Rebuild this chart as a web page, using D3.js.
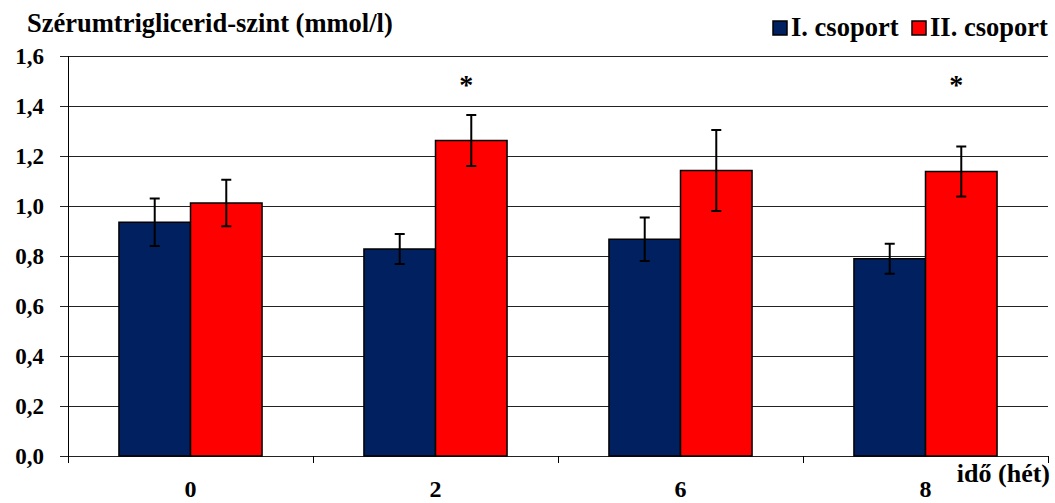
<!DOCTYPE html>
<html lang="hu">
<head>
    <meta charset="UTF-8">
    <title>Szérumtriglicerid-szint</title>
    <script src="https://d3js.org/d3.v7.min.js"></script>
    <style>
        body {
            margin: 0;
            padding: 0;
            background: white;
        }
        svg {
            display: block;
        }
        svg text {
            font-family: "Liberation Serif", "DejaVu Serif", "Times New Roman", serif;
            font-weight: bold;
        }
    </style>
</head>
<body>
    <svg id="chart" width="1055" height="503"></svg>

    <script>
        // data
        const weeks = ["0", "2", "6", "8"];
        const groups = ["I. csoport", "II. csoport"];
        const groupI = [0.935, 0.828, 0.867, 0.789];
        const groupII = [1.012, 1.262, 1.142, 1.138];
        const errI = [0.095, 0.06, 0.087, 0.06];
        const errII = [0.093, 0.102, 0.162, 0.1];
        const starred = ["2", "8"];
        const yTicks = [0, 0.2, 0.4, 0.6, 0.8, 1.0, 1.2, 1.4, 1.6];

        const colors = ["#002060", "#ff0000"];

        const svg = d3.select("#chart");
        const margin = { top: 56, right: 7, bottom: 47, left: 68 };
        const width = 1055, height = 503;

        const x = d3.scaleBand()
            .domain(weeks)
            .range([margin.left, width - margin.right])
            .paddingInner(0)
            .paddingOuter(0);

        const inner = d3.scaleBand()
            .domain(groups)
            .range([0, x.bandwidth()])
            .paddingInner(0)
            .paddingOuter(0.712);

        const y = d3.scaleLinear()
            .domain([0, 1.6])
            .range([height - margin.bottom, margin.top]);

        const fmt = d => d.toFixed(1).replace(".", ",");

        // gridlines
        svg.append("g")
            .selectAll("line")
            .data(yTicks)
            .join("line")
            .attr("x1", margin.left - 8)
            .attr("x2", width - margin.right)
            .attr("y1", d => Math.round(y(d)) + 0.5)
            .attr("y2", d => Math.round(y(d)) + 0.5)
            .attr("stroke", "#222")
            .attr("stroke-width", 1);

        // y labels
        svg.append("g")
            .selectAll("text")
            .data(yTicks)
            .join("text")
            .attr("x", 44)
            .attr("y", d => y(d) + 8)
            .attr("text-anchor", "end")
            .attr("font-size", 23)
            .text(fmt);

        // y axis line
        svg.append("line")
            .attr("x1", margin.left + 0.5).attr("x2", margin.left + 0.5)
            .attr("y1", y(1.6)).attr("y2", y(0))
            .attr("stroke", "#000");

        // x axis ticks between categories
        const boundaries = weeks.map(w => x(w) + x.bandwidth()).concat([margin.left]);
        svg.append("g")
            .selectAll("line")
            .data(boundaries)
            .join("line")
            .attr("x1", d => Math.round(d) + 0.5)
            .attr("x2", d => Math.round(d) + 0.5)
            .attr("y1", y(0))
            .attr("y2", y(0) + 7)
            .attr("stroke", "#000");

        // bars
        const rows = weeks.map((w, i) => [
            { week: w, group: groups[0], v: groupI[i], e: errI[i], c: colors[0] },
            { week: w, group: groups[1], v: groupII[i], e: errII[i], c: colors[1] }
        ]).flat();

        const bars = svg.append("g");
        bars.selectAll("rect")
            .data(rows)
            .join("rect")
            .attr("x", d => x(d.week) + inner(d.group))
            .attr("y", d => y(d.v))
            .attr("width", inner.bandwidth())
            .attr("height", d => y(0) - y(d.v))
            .attr("fill", d => d.c)
            .attr("stroke", "#000")
            .attr("stroke-width", 1.5);

        // error bars
        const eb = svg.append("g").attr("stroke", "#000").attr("stroke-width", 2);
        rows.forEach(d => {
            const cx = x(d.week) + inner(d.group) + inner.bandwidth() / 2;
            eb.append("line")
                .attr("x1", cx).attr("x2", cx)
                .attr("y1", y(d.v + d.e)).attr("y2", y(d.v - d.e));
            [d.v + d.e, d.v - d.e].forEach(t => {
                eb.append("line")
                    .attr("x1", cx - 5).attr("x2", cx + 5)
                    .attr("y1", y(t)).attr("y2", y(t));
            });
        });

        // significance marks
        svg.append("g")
            .selectAll("text")
            .data(starred)
            .join("text")
            .attr("x", d => x(d) + inner(groups[1]) + inner.bandwidth() / 2 - 5)
            .attr("y", y(1.6) + 38)
            .attr("text-anchor", "middle")
            .attr("font-size", 28)
            .text("*");

        // x labels
        svg.append("g")
            .selectAll("text")
            .data(weeks)
            .join("text")
            .attr("x", d => x(d) + x.bandwidth() / 2)
            .attr("y", 497)
            .attr("text-anchor", "middle")
            .attr("font-size", 24)
            .text(d => d);

        svg.append("text")
            .attr("x", 1050)
            .attr("y", 482)
            .attr("text-anchor", "end")
            .attr("font-size", 26)
            .text("idő (hét)");

        // title
        svg.append("text")
            .attr("x", 27)
            .attr("y", 32)
            .attr("font-size", 26.5)
            .text("Szérumtriglicerid-szint (mmol/l)");

        // legend
        const legend = svg.append("g");
        const legendX = [773, 912];
        groups.forEach((g, i) => {
            legend.append("rect")
                .attr("x", legendX[i]).attr("y", 21)
                .attr("width", 14).attr("height", 14)
                .attr("fill", colors[i])
                .attr("stroke", "#000")
                .attr("stroke-width", 1.5);
            legend.append("text")
                .attr("x", legendX[i] + 18)
                .attr("y", 36)
                .attr("font-size", 26.5)
                .text(g);
        });
    </script>
</body>
</html>
